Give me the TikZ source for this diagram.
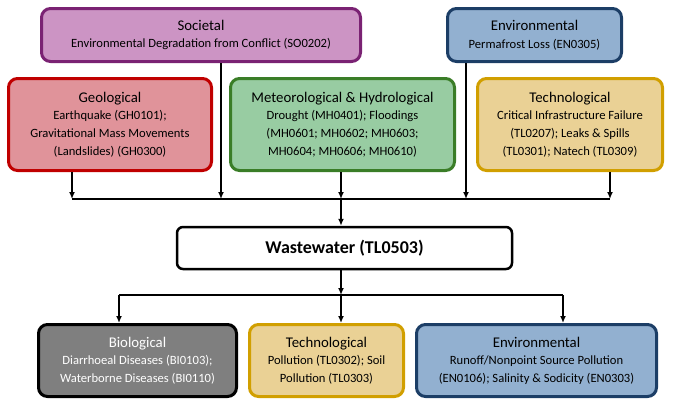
\documentclass[tikz,border=0pt]{standalone}
\usepackage{fontspec}
\setmainfont{Carlito}
\usetikzlibrary{arrows.meta}

\definecolor{socfill}{HTML}{CC94C4}
\definecolor{socline}{HTML}{7A2273}
\definecolor{envfill}{HTML}{92B0D0}
\definecolor{envline}{HTML}{1C3E66}
\definecolor{geofill}{HTML}{E0939A}
\definecolor{geoline}{HTML}{C00000}
\definecolor{metfill}{HTML}{98CCA2}
\definecolor{metline}{HTML}{3A7D27}
\definecolor{tecfill}{HTML}{EAD195}
\definecolor{tecline}{HTML}{D19F00}
\definecolor{biofill}{HTML}{7F7F7F}

\tikzset{
  hazard/.style={draw, line width=3pt, rounded corners=9pt, align=center,
    inner sep=2pt, font=\fontsize{12.6}{17.6}\selectfont},
  arr/.style={line width=1.4pt, -{Latex[length=7pt,width=6pt]}},
  bus/.style={line width=1.4pt},
}
\newcommand{\hd}[1]{{\fontsize{14.8}{17.6}\selectfont #1}}

\begin{document}
\begin{tikzpicture}[x=1pt,y=-1pt]
  \useasboundingbox (0,0) rectangle (678,400);

  % Top row
  \node[hazard, fill=socfill, draw=socline, minimum width=319pt, minimum height=53pt]
    (soc) at (201,35) {\hd{Societal}\\Environmental Degradation from Conflict (SO0202)};
  \node[hazard, fill=envfill, draw=envline, minimum width=174pt, minimum height=53pt]
    (envtop) at (534.5,35) {\hd{Environmental}\\Permafrost Loss (EN0305)};

  % Second row
  \node[hazard, fill=geofill, draw=geoline, minimum width=203pt, minimum height=92pt]
    (geo) at (110,124.5) {\hd{Geological}\\Earthquake (GH0101);\\Gravitational Mass Movements\\(Landslides) (GH0300)};
  \node[hazard, fill=metfill, draw=metline, minimum width=224pt, minimum height=92pt]
    (met) at (342.5,124.5) {\hd{Meteorological \& Hydrological}\\Drought (MH0401); Floodings\\(MH0601; MH0602; MH0603;\\MH0604; MH0606; MH0610)};
  \node[hazard, fill=tecfill, draw=tecline, minimum width=185pt, minimum height=92pt]
    (tec) at (570,124.5) {\hd{Technological}\\Critical Infrastructure Failure\\(TL0207); Leaks \& Spills\\(TL0301); Natech (TL0309)};

  % Centre
  \node[draw, line width=2.5pt, rounded corners=6pt, fill=white, minimum width=335pt, minimum height=42pt,
    font=\fontsize{18}{20}\selectfont\bfseries] (ww) at (344.5,248) {Wastewater (TL0503)};

  % Bottom row
  \node[hazard, fill=biofill, draw=black, text=white, minimum width=198pt, minimum height=72pt]
    (bio) at (137.5,360.5) {\hd{Biological}\\Diarrhoeal Diseases (BI0103);\\Waterborne Diseases (BI0110)};
  \node[hazard, fill=tecfill, draw=tecline, minimum width=154pt, minimum height=72pt]
    (tecbot) at (326.5,360.5) {\hd{Technological}\\Pollution (TL0302); Soil\\Pollution (TL0303)};
  \node[hazard, fill=envfill, draw=envline, minimum width=240pt, minimum height=72pt]
    (envbot) at (536.5,360.5) {\hd{Environmental}\\Runoff/Nonpoint Source Pollution\\(EN0106); Salinity \& Sodicity (EN0303)};

  % Upper bus
  \coordinate (bgeo) at (72,199);
  \coordinate (bsoc) at (221,199);
  \coordinate (bmet) at (341,199);
  \coordinate (benv) at (466,199);
  \coordinate (btec) at (610,199);
  \draw[bus] (bgeo) -- (btec);
  \draw[arr] (bgeo |- geo.south) -- (bgeo);
  \draw[arr] (bsoc |- soc.south) -- (bsoc);
  \draw[arr] (bmet |- met.south) -- (bmet);
  \draw[arr] (benv |- envtop.south) -- (benv);
  \draw[arr] (btec |- tec.south) -- (btec);
  \draw[arr] (bmet) -- (bmet |- ww.north);

  % Lower bus
  \coordinate (lbio) at (119,295);
  \coordinate (ltec) at (341,295);
  \coordinate (lenv) at (563,295);
  \draw[bus] (lbio) -- (lenv);
  \draw[arr] (ltec |- ww.south) -- (ltec);
  \draw[arr] (lbio) -- (lbio |- bio.north);
  \draw[arr] (ltec) -- (ltec |- tecbot.north);
  \draw[arr] (lenv) -- (lenv |- envbot.north);
\end{tikzpicture}
\end{document}
